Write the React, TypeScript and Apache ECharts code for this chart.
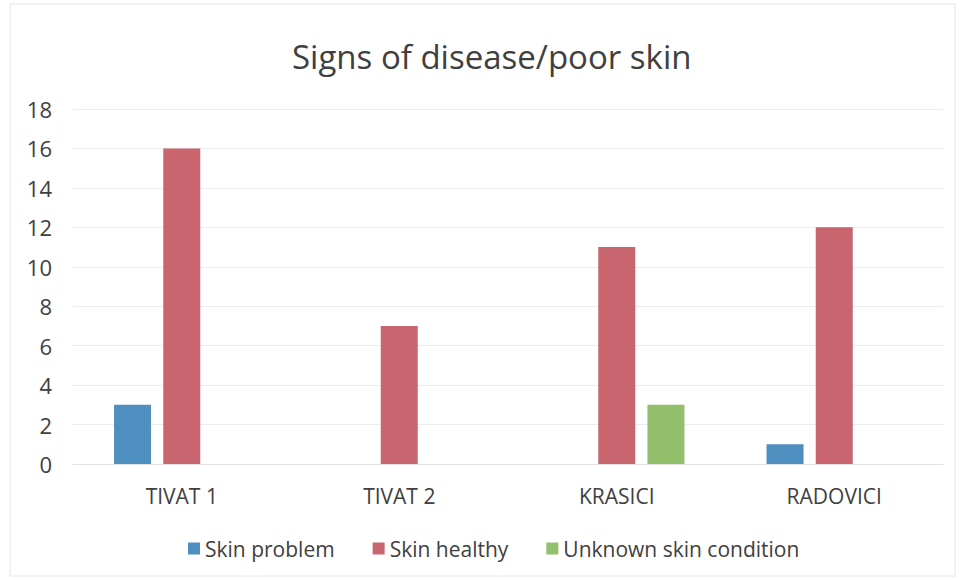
import React, { useEffect, useRef } from "react";
import * as echarts from "echarts";

const categories = ["TIVAT 1", "TIVAT 2", "KRASICI", "RADOVICI"];
const skinProblem = [3, 0, 0, 1];
const skinHealthy = [16, 7, 11, 12];
const unknownSkin = [0, 0, 3, 0];
const seriesNames = ["Skin problem", "Skin healthy", "Unknown skin condition"];
const colors = ["#4f8fc0", "#c8656f", "#94bf6c"];
const FONT = "Open Sans";

export default function App() {
  const ref = useRef<HTMLDivElement>(null);
  useEffect(() => {
    document.body.style.margin = "0";
    const chart = echarts.init(ref.current!, null, { renderer: "svg" });
    const values = [skinProblem, skinHealthy, unknownSkin];
    chart.setOption({
      animation: false,
      backgroundColor: "#ffffff",
      textStyle: { fontFamily: FONT },
      title: {
        text: "Signs of disease/poor skin",
        left: 287,
        top: 35,
        textStyle: { fontFamily: FONT, fontSize: 33, fontWeight: "normal", color: "#404040" },
      },
      legend: {
        top: 533,
        left: 183,
        itemWidth: 12,
        itemHeight: 12,
        itemGap: 38,
        itemStyle: { borderWidth: 0 },
        icon: "rect",
        textStyle: { fontFamily: FONT, fontSize: 21, color: "#404040" },
        data: seriesNames,
      },
      grid: { left: 73, right: 18, top: 109, bottom: 116 },
      xAxis: {
        type: "category",
        data: categories,
        axisTick: { show: false },
        axisLine: { lineStyle: { color: "#e3e3e3" } },
        axisLabel: { fontFamily: FONT, fontSize: 21, color: "#404040", margin: 21 },
      },
      yAxis: {
        type: "value",
        min: 0,
        max: 18,
        interval: 2,
        axisLine: { show: false },
        axisTick: { show: false },
        splitLine: { lineStyle: { color: "#ececec" } },
        axisLabel: { fontFamily: FONT, fontSize: 22, color: "#404040", margin: 21 },
      },
      graphic: [
        {
          type: "rect",
          shape: { x: 10, y: 4, width: 945, height: 572 },
          style: { fill: "none", stroke: "#e6e6e6", lineWidth: 1 },
          silent: true,
        },
      ],
      series: seriesNames.map((name, i) => ({
        name,
        type: "bar",
        data: values[i],
        barWidth: 37,
        barGap: "33%",
        itemStyle: { color: colors[i] },
      })),
    });
    return () => chart.dispose();
  }, []);
  return <div ref={ref} style={{ width: 961, height: 580 }} />;
}
